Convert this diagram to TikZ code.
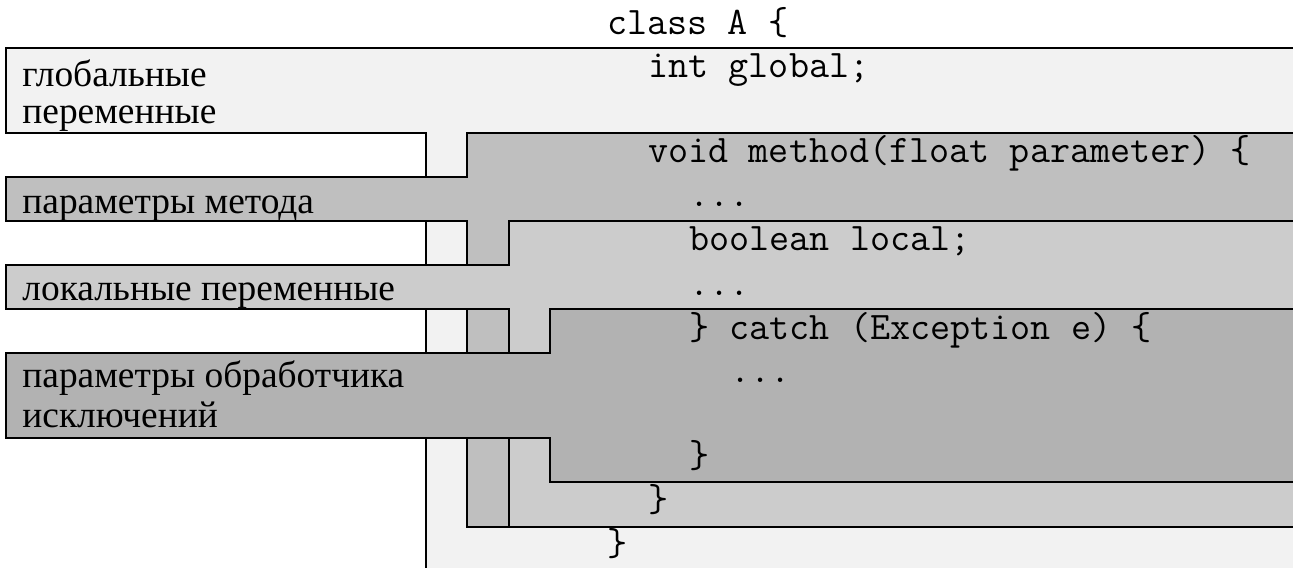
\documentclass[tikz,border=0pt]{standalone}
\usepackage{fontspec}
\setmainfont{Liberation Serif}
\definecolor{clsfill}{HTML}{F2F2F2}
\definecolor{mthfill}{HTML}{BFBFBF}
\definecolor{locfill}{HTML}{CCCCCC}
\definecolor{excfill}{HTML}{B2B2B2}
\tikzset{
  region/.style={draw=black, line width=1.35pt, line join=miter},
  code/.style={font=\ttfamily\fontsize{19.5}{22}\selectfont, anchor=base west, inner sep=0pt},
  lbl/.style={font=\fontsize{18.7}{22}\selectfont, anchor=base west, inner sep=0pt}
}
\begin{document}
\begin{tikzpicture}[x=0.5pt,y=-0.5pt]
\useasboundingbox (0,0) rectangle (1293,567);
\fill[white] (0,0) rectangle (1293,567);
\begin{scope}
\clip (0,0) rectangle (1293,567);
% class region
\path[region, fill=clsfill] (6,48) -- (1310,48) -- (1310,585) -- (426,585) -- (426,133) -- (6,133) -- cycle;
% method region
\path[region, fill=mthfill] (467,133) -- (1310,133) -- (1310,527) -- (467,527) -- (467,221) -- (6,221) -- (6,177) -- (467,177) -- cycle;
% local region
\path[region, fill=locfill] (509,221) -- (1310,221) -- (1310,527) -- (509,527) -- (509,309) -- (6,309) -- (6,265) -- (509,265) -- cycle;
% handler region
\path[region, fill=excfill] (550,309) -- (1310,309) -- (1310,482) -- (550,482) -- (550,438) -- (6,438) -- (6,353) -- (550,353) -- cycle;
\end{scope}
% labels
\node[lbl] (g1) at (22,87) {глобальные};
\node[lbl] (g2) at (22,123) {переменные};
\node[lbl] (pm) at (22,213) {параметры метода};
\node[lbl] (lv) at (22,300) {локальные переменные};
\node[lbl] (e1) at (22,387) {параметры обработчика};
\node[lbl] (e2) at (22,427) {исключений};
% code
\node[code] (c1) at (607,35) {class A \{};
\node[code] (c2) at (648,78) {int global;};
\node[code] (c3) at (648,162) {void method(float parameter) \{};
\node[code] (c4) at (689,206) {...};
\node[code] (c5) at (689,250) {boolean local;};
\node[code] (c6) at (689,295) {...};
\node[code] (c7) at (689,339) {\} catch (Exception e) \{};
\node[code] (c8) at (730,382) {...};
\node[code] (c9) at (689,467) {\}};
\node[code] (c10) at (648,511) {\}};
\node[code] (c11) at (607,555) {\}};
\end{tikzpicture}
\end{document}
